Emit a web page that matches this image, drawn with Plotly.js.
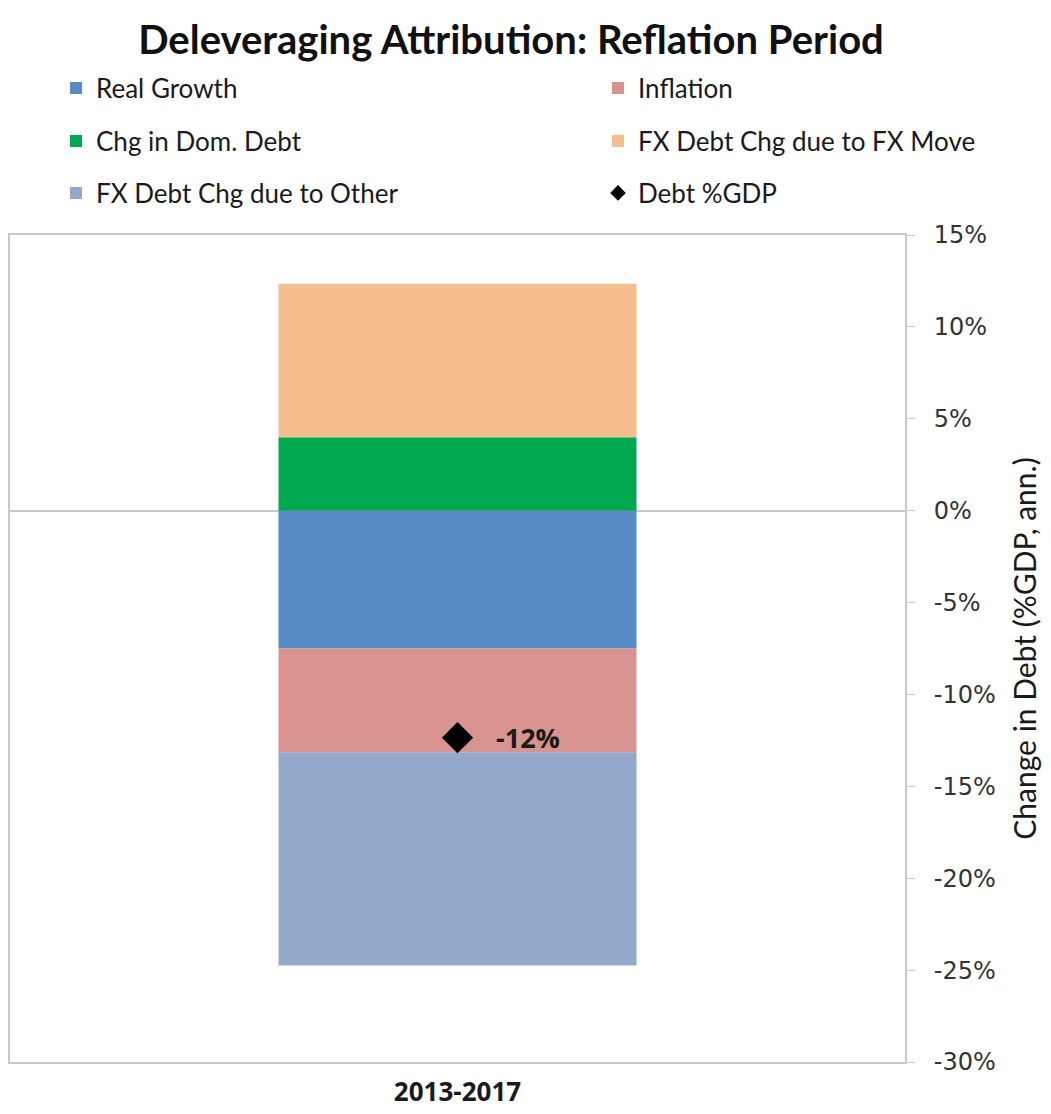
<!DOCTYPE html>
<html>
<head>
<meta charset="utf-8">
<script src="https://cdn.plot.ly/plotly-3.0.1.min.js"></script>
<style>html,body{margin:0;padding:0;background:#fff;}#chart{width:1051px;height:1114px;}</style>
</head>
<body>
<div id="chart"></div>
<script>
// ---- data ----
const categories = ["2013-2017"];
const seriesNames = ["Real Growth", "Inflation", "Chg in Dom. Debt", "FX Debt Chg due to FX Move", "FX Debt Chg due to Other"];
const realGrowth = [-7.5];
const inflation = [-5.65];
const chgDomDebt = [4.0];
const fxMove = [8.35];
const fxOther = [-11.6];
const debtGdp = [-12.35];
const debtGdpLabels = ["-12%"];
const yTickVals = [-30, -25, -20, -15, -10, -5, 0, 5, 10, 15];
const yTickText = ["-30%", "-25%", "-20%", "-15%", "-10%", "-5%", "0%", "5%", "10%", "15%"];

const colors = ["#588cc7", "#d9948f", "#00a84f", "#f6be8f", "#92a9cc"];
const seriesVals = [realGrowth, inflation, chgDomDebt, fxMove, fxOther];
const legendIds = ["legend", "legend2", "legend3", "legend4", "legend5"];

const traces = seriesNames.map((n, i) => ({
  type: "bar",
  name: n,
  x: categories,
  y: seriesVals[i],
  marker: {color: colors[i], line: {width: 0}},
  legend: legendIds[i],
  hoverinfo: "name+y"
}));
traces.push({
  type: "scatter",
  mode: "markers",
  name: "Debt %GDP",
  x: categories,
  y: debtGdp,
  marker: {symbol: "diamond", size: 24, color: "#000"},
  legend: "legend6"
});

// plot area geometry (pixels) used to place legends
const plotTop = 235, plotBottom = 1062, plotLeft = 10, plotRight = 905;
const py = p => (plotBottom - p) / (plotBottom - plotTop);
const px = p => (p - plotLeft) / (plotRight - plotLeft);
const legFont = {family: "Lato, 'Open Sans', sans-serif", size: 26, color: "#1a1a1a"};
function leg(x, y) {
  return {x: px(x), y: py(y), xanchor: "left", yanchor: "middle", orientation: "h",
          font: legFont, bgcolor: "rgba(0,0,0,0)", itemsizing: "constant", itemclick: false};
}

const layout = {
  width: 1051, height: 1114,
  margin: {l: plotLeft, r: 1051 - plotRight, t: plotTop, b: 1114 - plotBottom, pad: 0},
  paper_bgcolor: "#fff", plot_bgcolor: "#fff",
  barmode: "relative",
  bargap: 0.6,
  showlegend: true,
  title: {text: "Deleveraging Attribution: Reflation Period",
          font: {family: "Lato, 'Open Sans', sans-serif", size: 40, color: "#111", weight: "bold"},
          x: 511 / 1051, xref: "container", xanchor: "center",
          y: 1 - 40 / 1114, yref: "container", yanchor: "middle"},
  xaxis: {
    type: "category",
    showline: true, mirror: true, linecolor: "#c9c9c9", linewidth: 2,
    ticks: "", showgrid: false,
    ticklabelstandoff: 6,
    tickfont: {family: "'Open Sans', Lato, sans-serif", size: 26, color: "#1a1a1a", weight: "bold"},
    fixedrange: true
  },
  yaxis: {
    side: "right",
    range: [-30, 15],
    tickvals: yTickVals, ticktext: yTickText,
    showline: true, mirror: true, linecolor: "#c9c9c9", linewidth: 2,
    ticks: "outside", ticklen: 8, tickcolor: "#c9c9c9", tickwidth: 1,
    ticklabelstandoff: 14,
    showgrid: false,
    zeroline: true, zerolinecolor: "#c9c9c9", zerolinewidth: 2,
    tickfont: {family: "'DejaVu Sans', sans-serif", size: 24, color: "#333"},
    title: {text: "Change in Debt (%GDP, ann.)", standoff: 20,
            font: {family: "Lato, 'Open Sans', sans-serif", size: 30, color: "#1a1a1a"}},
    fixedrange: true
  },
  legend: leg(56, 88),
  legend2: leg(598, 88),
  legend3: leg(56, 141),
  legend4: leg(598, 141),
  legend5: leg(56, 193),
  legend6: leg(598, 193),
  annotations: categories.map((c, i) => ({
    x: c, y: debtGdp[i], xref: "x", yref: "y",
    text: "<b>" + debtGdpLabels[i] + "</b>", showarrow: false,
    xanchor: "left", yanchor: "middle", xshift: 36,
    font: {family: "'Open Sans', Lato, sans-serif", size: 27, color: "#1a1a1a"}
  }))
};

Plotly.newPlot("chart", traces, layout, {displayModeBar: false, staticPlot: true});
</script>
</body>
</html>
